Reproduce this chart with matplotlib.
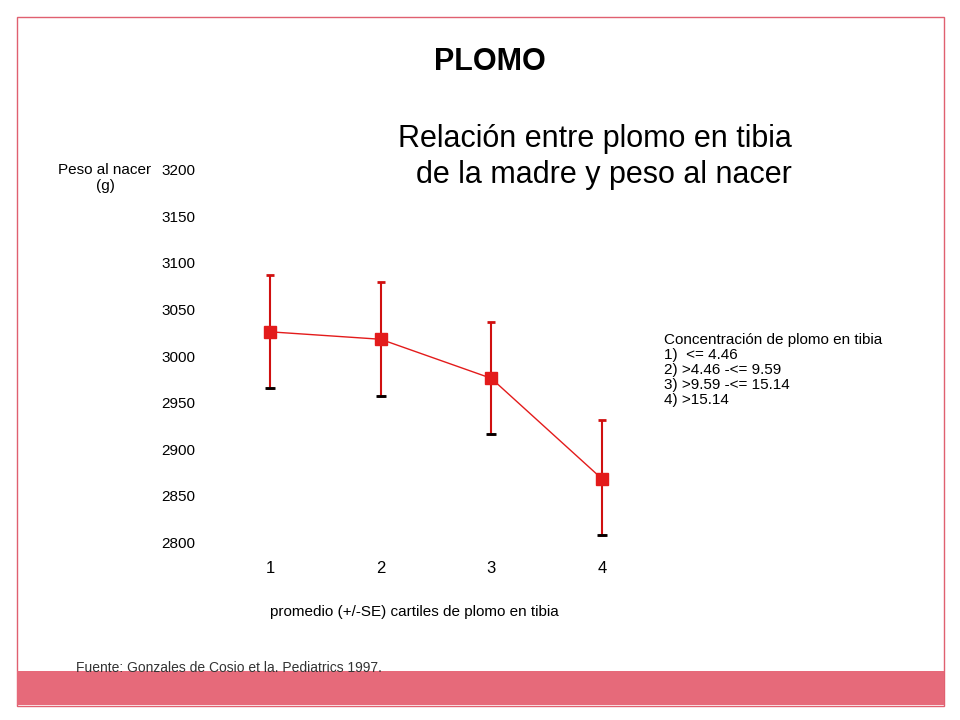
import matplotlib
matplotlib.use("Agg")
import matplotlib.pyplot as plt
from matplotlib.patches import Rectangle

plt.rcParams["font.family"] = "Liberation Sans"

cuartiles = [1, 2, 3, 4]
peso_medio = [3026, 3018, 2976, 2868]
error_sup = [3087, 3080, 3037, 2931]
error_inf = [2966, 2957, 2916, 2808]
yticks = [2800, 2850, 2900, 2950, 3000, 3050, 3100, 3150, 3200]

fig = plt.figure(figsize=(9.6, 7.2), dpi=100)
fig.patches.append(Rectangle((17/960, 1-706/720), 927/960, 689/720, transform=fig.transFigure,
                             fill=False, edgecolor="#e06070", lw=1))
fig.patches.append(Rectangle((17/960, 1-705/720), 927/960, 34/720, transform=fig.transFigure,
                             facecolor="#e66a7a", edgecolor="none"))

ax = fig.add_axes([0.2236, 0.2472, 0.461, 0.5167])
ax.set_xlim(0.5, 4.5)
ax.set_ylim(2800, 3200)
for s in ax.spines.values():
    s.set_visible(False)
lo = [m - l for m, l in zip(peso_medio, error_inf)]
hi = [h - m for m, h in zip(peso_medio, error_sup)]
ax.errorbar(cuartiles, peso_medio, yerr=[lo, hi], color="#e31b1b", lw=1,
            marker="s", markersize=9, elinewidth=1.5, capsize=3, capthick=2, ecolor="#d01010")
ax.plot(cuartiles, error_inf, ls="none", marker="_", markersize=7, mew=2, color="black")
ax.set_xticks(cuartiles)
ax.set_yticks(yticks)
ax.tick_params(length=0)
ax.tick_params(axis="y", pad=14, labelsize=11)
ax.tick_params(axis="x", pad=14, labelsize=12)
for t in ax.get_yticklabels():
    t.set_horizontalalignment("right")

fig.text(490/960, 1-62/720, "PLOMO", fontsize=22, fontweight="bold", ha="center", va="center")
fig.text(595/960, 1-157/720, "Relación entre plomo en tibia\n  de la madre y peso al nacer",
         fontsize=22, ha="center", va="center", linespacing=1.25)
fig.text(105/960, 1-178/720, "Peso al nacer\n(g)", fontsize=11, ha="center", va="center")
fig.text(414/960, 1-612/720, "promedio (+/-SE) cartiles de plomo en tibia", fontsize=11,
         ha="center", va="center")
fig.text(664/960, 1-370/720,
         "Concentración de plomo en tibia\n1)  <= 4.46\n2) >4.46 -<= 9.59\n3) >9.59 -<= 15.14\n4) >15.14",
         fontsize=11, ha="left", va="center", linespacing=1.1)
fig.text(76/960, 1-668/720, "Fuente: Gonzales de Cosio et la. Pediatrics 1997.", fontsize=10,
         ha="left", va="center", color="#333333")

fig.savefig("out.png", dpi=100)
